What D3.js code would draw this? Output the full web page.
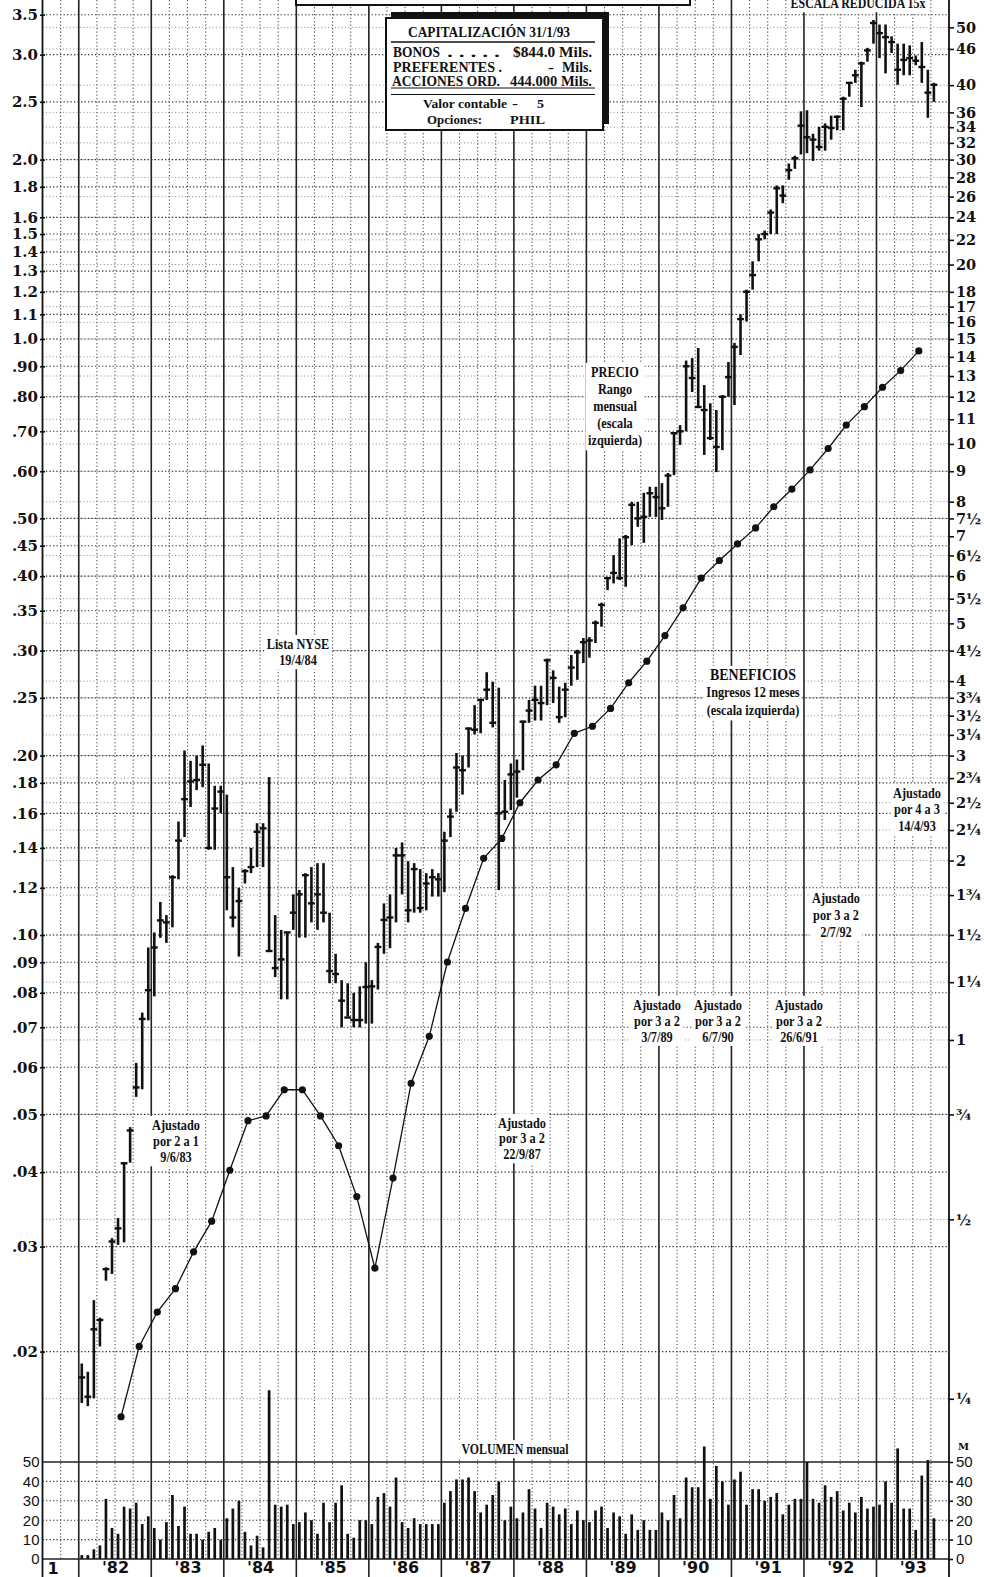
<!DOCTYPE html>
<html>
<head>
<meta charset="utf-8">
<script src="https://cdn.jsdelivr.net/npm/d3@7"></script>
<style>
  body { margin: 0; background: #fff; }
  svg { display: block; }
</style>
</head>
<body>
<div id="chart"></div>
<script>
// monthly price range, Jan 1982 .. Oct 1993 (left scale)
const priceHigh = [
  .0191,.0185,.0244,.0228,.0277,.0310,.0335,.0415,.0476,.0610,.0741,.0953,
  .101,.1136,.108,.126,.155,.204,.196,.200,.208,.194,.178,.178,
  .172,.130,.120,.129,.140,.154,.154,.184,.108,.102,.101,.117,
  .119,.127,.130,.132,.132,.109,.093,.084,.083,.080,.082,.090,
  .084,.097,.113,.117,.140,.143,.133,.132,.129,.127,.129,.127,
  .149,.163,.202,.200,.223,.243,.249,.276,.266,.260,.182,.194,
  .197,.229,.248,.262,.262,.291,.278,.261,.265,.295,.301,.315,
  .316,.337,.361,.398,.434,.463,.469,.533,.533,.552,.565,.565,
  .573,.596,.698,.717,.920,.929,.966,.837,.780,.760,.805,.915,
  .985,1.10,1.21,1.35,1.50,1.52,1.65,1.81,1.81,1.97,2.03,2.41,
  2.42,2.21,2.27,2.30,2.37,2.37,2.55,2.70,2.83,2.92,3.08,3.43,
  3.37,3.37,3.22,3.13,3.13,3.11,2.99,3.15,2.83,2.69
];
const priceLow = [
  .0164,.0162,.0167,.0204,.0263,.0270,.0302,.0305,.0415,.0535,.0551,.0719,
  .0789,.0989,.097,.103,.124,.146,.164,.175,.177,.139,.139,.160,
  .110,.103,.092,.122,.127,.130,.130,.094,.085,.078,.078,.102,
  .099,.099,.105,.102,.105,.083,.083,.070,.073,.070,.070,.071,
  .071,.081,.093,.095,.105,.117,.105,.109,.109,.110,.116,.116,
  .118,.146,.161,.172,.191,.217,.218,.248,.223,.119,.156,.162,
  .170,.189,.227,.229,.229,.243,.245,.227,.232,.262,.268,.286,
  .292,.309,.329,.379,.389,.394,.384,.451,.484,.455,.503,.503,
  .497,.523,.591,.664,.700,.815,.766,.639,.677,.598,.651,.800,
  .775,.94,1.07,1.21,1.35,1.47,1.50,1.50,1.69,1.85,1.93,2.04,
  2.05,1.99,2.07,2.07,2.16,2.24,2.24,2.55,2.69,2.45,2.92,3.13,
  2.96,2.79,3.02,2.67,2.77,2.77,2.88,2.69,2.35,2.50
];
const priceClose = [
  .0181,.0168,.0218,.0226,.0275,.0306,.0322,.0414,.0470,.0555,.0723,.0808,
  .0953,.1058,.105,.125,.144,.169,.181,.182,.193,.140,.163,.174,
  .125,.107,.114,.128,.130,.149,.151,.094,.088,.091,.101,.109,
  .117,.126,.113,.117,.109,.087,.086,.0776,.0727,.072,.072,.0818,
  .082,.0955,.106,.107,.136,.136,.110,.129,.111,.122,.125,.124,
  .144,.158,.191,.189,.222,.221,.248,.258,.227,.160,.161,.186,
  .188,.228,.238,.248,.245,.289,.270,.232,.258,.281,.298,.310,
  .312,.334,.358,.397,.405,.397,.465,.527,.500,.503,.551,.543,
  .520,.590,.695,.700,.900,.860,.769,.760,.682,.659,.800,.863,
  .970,1.08,1.20,1.28,1.47,1.50,1.63,1.79,1.74,1.92,2.01,2.28,
  2.18,2.16,2.10,2.27,2.26,2.36,2.53,2.69,2.77,2.90,3.05,3.39,
  3.26,3.21,3.15,2.83,2.94,2.96,2.93,2.86,2.59,2.67
];

// monthly volume, millions
const volume = [
  2,2,5,7,31,16,13,27,26,29,18,22,
  16,10,19,33,17,27,13,13,10,14,16,10,
  21,26,30,14,7,12,6,87,28,27,28,18,
  19,24,20,13,29,19,29,38,13,11,20,20,
  18,32,34,27,42,19,16,21,18,18,18,18,
  29,35,41,41,42,35,24,28,33,40,20,27,
  21,24,36,26,16,29,27,23,26,18,25,20,
  19,25,27,16,24,22,13,23,15,20,15,15,
  24,20,33,21,42,37,37,58,31,48,40,28,
  41,45,28,36,36,30,32,34,23,28,31,31,
  50,31,29,38,32,35,25,29,24,32,26,27,
  28,40,29,57,26,26,15,43,51,21
];

// 12-month earnings, quarterly points from mid 1982 to mid 1993
const earnings = [
  .01555,.0204,.0233,.0255,.0294,.0331,.0403,.0488,.0497,.0550,
  .0550,.0497,.0443,.0364,.0276,.0391,.0564,.0676,.0901,.1108,
  .1345,.1452,.1667,.182,.193,.218,.224,.240,.265,.288,
  .318,.354,.397,.425,.453,.482,.523,.560,.603,.655,
  .717,.770,.830,.885,.955
];

const leftTicks = [3.5,3.0,2.5,2.0,1.8,1.6,1.5,1.4,1.3,1.2,1.1,1.0,0.9,0.8,0.7,0.6,0.5,0.45,0.4,0.35,0.3,0.25,0.2,0.18,0.16,0.14,0.12,0.10,0.09,0.08,0.07,0.06,0.05,0.04,0.03,0.02];
const leftLabels = ["3.5","3.0","2.5","2.0","1.8","1.6","1.5","1.4","1.3","1.2","1.1","1.0",".90",".80",".70",".60",".50",".45",".40",".35",".30",".25",".20",".18",".16",".14",".12",".10",".09",".08",".07",".06",".05",".04",".03",".02"];
const rightTicks = [50,46,40,36,34,32,30,28,26,24,22,20,18,17,16,15,14,13,12,11,10,9,8,7.5,7,6.5,6,5.5,5,4.5,4,3.75,3.5,3.25,3,2.75,2.5,2.25,2,1.75,1.5,1.25,1,0.75,0.5,0.25];
const rightLabels = ["50","46","40","36","34","32","30","28","26","24","22","20","18","17","16","15","14","13","12","11","10","9","8","7½","7","6½","6","5½","5","4½","4","3¾","3½","3¼","3","2¾","2½","2¼","2","1¾","1½","1¼","1","¾","½","¼"];
const volTicks = [0,10,20,30,40,50];
const years = [1982,1983,1984,1985,1986,1987,1988,1989,1990,1991,1992,1993];
const yearLabels = ["'82","'83","'84","'85","'86","'87","'88","'89","'90","'91","'92","'93"];

const W = 984, H = 1577;
const left = 42.5, right = 949, base = 1559;
const serif = "'Liberation Serif', 'Times New Roman', serif";
const tickFont = "'DejaVu Serif', serif";
const sans = "'Liberation Sans', Arial, sans-serif";

const svg = d3.select("#chart").append("svg")
  .attr("width", W)
  .attr("height", H)
  .style("background", "#fff");

// months counted from Jan 1982; chart starts mid 1981
const x = d3.scaleLinear().domain([-6, 144]).range([left, right]);
const y = d3.scaleLog().domain([0.01, 10]).range([1531, -257]);
const yR = d3.scaleLog().domain([0.15, 150]).range([1531, -257]);
const yV = d3.scaleLinear().domain([0, 50]).range([base, 1462]);

// grid
const grid = svg.append("g");

grid.selectAll(".gr").data(rightTicks).enter().append("line")
  .attr("x1", left).attr("x2", right)
  .attr("y1", d => yR(d)).attr("y2", d => yR(d))
  .attr("stroke", "#888").attr("stroke-width", 1)
  .attr("stroke-dasharray", "1,2.4");

grid.selectAll(".gl").data(leftTicks).enter().append("line")
  .attr("x1", left).attr("x2", right)
  .attr("y1", d => y(d)).attr("y2", d => y(d))
  .attr("stroke", "#333").attr("stroke-width", 1.1)
  .attr("stroke-dasharray", "1.3,2.2");

grid.selectAll(".gv").data([10, 20, 30, 40]).enter().append("line")
  .attr("x1", left).attr("x2", right)
  .attr("y1", d => yV(d)).attr("y2", d => yV(d))
  .attr("stroke", "#333").attr("stroke-width", 1.1)
  .attr("stroke-dasharray", "1.3,2.2");

const quarterLines = d3.range(-3, 144, 3).filter(m => m % 12 !== 0);
grid.selectAll(".gq").data(quarterLines).enter().append("line")
  .attr("x1", d => x(d)).attr("x2", d => x(d))
  .attr("y1", 0).attr("y2", base)
  .attr("stroke", "#555").attr("stroke-width", 1.1)
  .attr("stroke-dasharray", "1.3,2.2");

grid.selectAll(".gy").data(d3.range(0, 144, 12)).enter().append("line")
  .attr("x1", d => x(d)).attr("x2", d => x(d))
  .attr("y1", 0).attr("y2", H)
  .attr("stroke", "#222").attr("stroke-width", 1.6);

grid.append("line")
  .attr("x1", left).attr("x2", right)
  .attr("y1", yV(50)).attr("y2", yV(50))
  .attr("stroke", "#222").attr("stroke-width", 1.5);

grid.append("line")
  .attr("x1", left).attr("x2", right)
  .attr("y1", base).attr("y2", base)
  .attr("stroke", "#222").attr("stroke-width", 1.5);

[left, right].forEach(px => {
  grid.append("line")
    .attr("x1", px).attr("x2", px)
    .attr("y1", 0).attr("y2", H)
    .attr("stroke", "#111").attr("stroke-width", 1.8);
});

// text notes with white background
const notes = svg.append("g");

function note(lines, cx, y0, lh, size, sx) {
  const g = notes.append("g").attr("transform", `translate(${cx},0) scale(${sx || 0.82},1)`);
  const t = g.append("text")
    .attr("text-anchor", "middle")
    .attr("font-family", serif)
    .attr("font-weight", "bold")
    .attr("font-size", size)
    .attr("fill", "#111");
  lines.forEach((s, i) => {
    t.append("tspan").attr("x", 0).attr("y", y0 + i * lh).text(s);
  });
  const b = t.node().getBBox();
  g.insert("rect", "text")
    .attr("x", b.x - 3).attr("y", b.y - 1)
    .attr("width", b.width + 6).attr("height", b.height + 2)
    .attr("fill", "#fff");
  return t;
}

note(["Ajustado", "por 2 a 1", "9/6/83"], 176, 1130, 16, 15);
note(["Lista NYSE", "19/4/84"], 298, 649, 16, 15);
note(["Ajustado", "por 3 a 2", "22/9/87"], 522, 1128, 15.5, 15);
note(["PRECIO", "Rango", "mensual", "(escala", "izquierda)"], 615, 377, 17, 15);
const ben = note(["BENEFICIOS", "Ingresos 12 meses", "(escala izquierda)"], 753, 680, 17.5, 15);
ben.select("tspan").attr("font-size", 17);
note(["Ajustado", "por 3 a 2", "3/7/89"], 657, 1010, 15.8, 15);
note(["Ajustado", "por 3 a 2", "6/7/90"], 718, 1010, 15.8, 15);
note(["Ajustado", "por 3 a 2", "26/6/91"], 799, 1010, 15.8, 15);
note(["Ajustado", "por 3 a 2", "2/7/92"], 836, 903, 17, 15);
note(["Ajustado", "por 4 a 3", "14/4/93"], 917, 798, 16.5, 15);
note(["VOLUMEN mensual"], 515, 1454, 16, 14, 0.85);
note(["ESCALA REDUCIDA 15x"], 858, 8, 16, 14, 0.85);

// top boxes
svg.append("rect")
  .attr("x", 296).attr("y", -20).attr("width", 394).attr("height", 25)
  .attr("fill", "#fff").attr("stroke", "#111").attr("stroke-width", 2);

const box = svg.append("g");
box.append("rect")
  .attr("x", 391).attr("y", 12).attr("width", 218).attr("height", 112)
  .attr("fill", "#111");
box.append("rect")
  .attr("x", 386).attr("y", 18).attr("width", 217).attr("height", 112)
  .attr("fill", "#fff").attr("stroke", "#111").attr("stroke-width", 2);

const boxText = [
  ["CAPITALIZACIÓN 31/1/93", 408, 36.5, 162, 14],
  ["BONOS", 393, 56.5, 47, 14],
  [". . . . .", 447, 56.5, 53, 14],
  ["$844.0 Mils.", 513, 56.5, 79, 14],
  ["PREFERENTES .", 393, 71.5, 109, 14],
  ["-", 548, 71.5, 6, 14],
  ["Mils.", 562, 71.5, 30, 14],
  ["ACCIONES ORD.", 392, 86, 108, 14],
  ["444.000 Mils.", 510, 86, 82, 14],
  ["Valor contable", 423, 108, 84, 13],
  ["-", 512, 108, 6, 13],
  ["5", 537, 108, 7, 13],
  ["Opciones:", 427, 123.5, 55, 13],
  ["PHIL", 510, 123.5, 35, 13]
];
box.selectAll("text.bx").data(boxText).enter().append("text")
  .attr("x", d => d[1]).attr("y", d => d[2])
  .attr("textLength", d => d[3])
  .attr("lengthAdjust", "spacingAndGlyphs")
  .attr("font-family", serif)
  .attr("font-weight", "bold")
  .attr("font-size", d => d[4])
  .attr("fill", "#111")
  .text(d => d[0]);

[[42, 1.5], [88, 1.2], [94.5, 1.2]].forEach(r => {
  box.append("line")
    .attr("x1", 391).attr("x2", 595)
    .attr("y1", r[0]).attr("y2", r[0])
    .attr("stroke", "#111").attr("stroke-width", r[1]);
});

// volume bars
svg.append("g").selectAll("line").data(volume).enter().append("line")
  .attr("x1", (d, i) => x(i + 0.5)).attr("x2", (d, i) => x(i + 0.5))
  .attr("y1", yV(0)).attr("y2", d => yV(d))
  .attr("stroke", "#111").attr("stroke-width", 2.7);

// earnings line
const earnX = (d, i) => x(7 + 3 * i);
const eg = svg.append("g");
eg.append("path")
  .datum(earnings)
  .attr("d", d3.line().x(earnX).y(d => y(d)))
  .attr("fill", "none")
  .attr("stroke", "#111")
  .attr("stroke-width", 1.3);
eg.selectAll("circle").data(earnings).enter().append("circle")
  .attr("cx", earnX).attr("cy", d => y(d))
  .attr("r", 3.6).attr("fill", "#111");

// price bars
const pg = svg.append("g").attr("stroke", "#111");
pg.selectAll("line.hl").data(priceHigh).enter().append("line")
  .attr("class", "hl")
  .attr("x1", (d, i) => x(i + 0.5)).attr("x2", (d, i) => x(i + 0.5))
  .attr("y1", d => y(d)).attr("y2", (d, i) => y(priceLow[i]))
  .attr("stroke-width", 2.6);
pg.selectAll("line.cl").data(priceClose).enter().append("line")
  .attr("class", "cl")
  .attr("x1", (d, i) => x(i + 0.5) - 3.4).attr("x2", (d, i) => x(i + 0.5) + 3.4)
  .attr("y1", d => y(d)).attr("y2", d => y(d))
  .attr("stroke-width", 2.4);

// axes
function styleAxis(g, font, size, weight) {
  g.select(".domain").remove();
  g.selectAll(".tick line").attr("stroke", "#111").attr("stroke-width", 1.6);
  g.selectAll("text")
    .attr("font-family", font)
    .attr("font-size", size)
    .attr("font-weight", weight)
    .attr("fill", "#111");
}

svg.append("g")
  .attr("transform", "translate(45,0)")
  .call(d3.axisLeft(y).tickValues(leftTicks).tickFormat((d, i) => leftLabels[i]).tickSize(5).tickPadding(2))
  .call(g => styleAxis(g, tickFont, 15, "bold"));

svg.append("g")
  .attr("transform", `translate(${right},0)`)
  .call(d3.axisRight(yR).tickValues(rightTicks).tickFormat((d, i) => rightLabels[i]).tickSize(5).tickPadding(2))
  .call(g => styleAxis(g, tickFont, 14.5, "bold"));

svg.append("g")
  .attr("transform", `translate(${left},0)`)
  .call(d3.axisLeft(yV).tickValues(volTicks).tickSize(0).tickPadding(3))
  .call(g => styleAxis(g, sans, 15, "normal"));

svg.append("g")
  .attr("transform", `translate(${right},0)`)
  .call(d3.axisRight(yV).tickValues(volTicks).tickSize(4).tickPadding(3))
  .call(g => styleAxis(g, sans, 15, "normal"));

svg.append("text")
  .attr("x", 958).attr("y", 1450)
  .attr("font-family", tickFont).attr("font-size", 10).attr("font-weight", "bold")
  .attr("fill", "#111")
  .text("M");

svg.append("g")
  .attr("transform", `translate(0,${base})`)
  .call(d3.axisBottom(x).tickValues(years.map(yr => (yr - 1982) * 12 + 6)).tickFormat((d, i) => yearLabels[i]).tickSize(0).tickPadding(3))
  .call(g => styleAxis(g, "'DejaVu Sans', sans-serif", 16, "bold"));

svg.append("text")
  .attr("x", x(-6) + 5).attr("y", 1574)
  .attr("font-family", "'DejaVu Sans', sans-serif").attr("font-size", 16).attr("font-weight", "bold")
  .attr("fill", "#111")
  .text("1");
</script>
</body>
</html>
